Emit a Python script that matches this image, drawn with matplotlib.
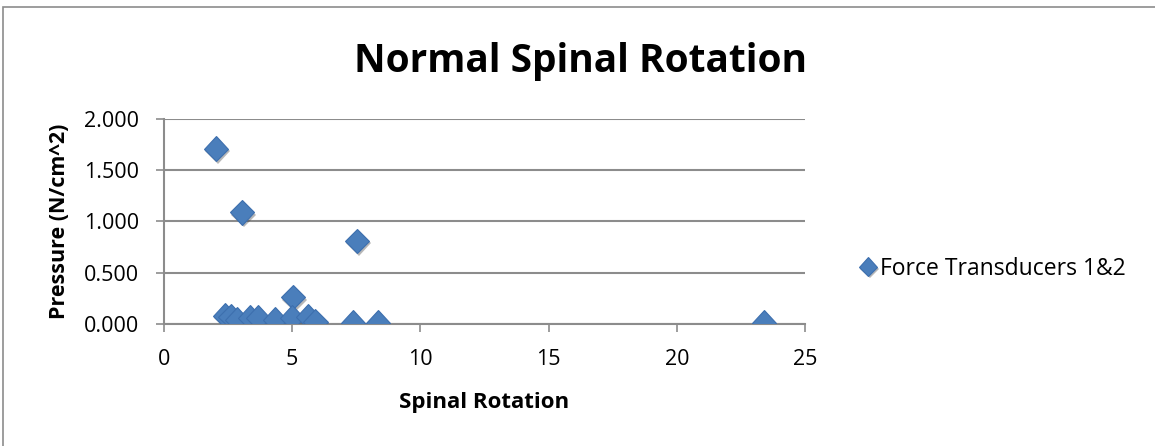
import matplotlib.pyplot as plt
import matplotlib.patheffects as pe
from matplotlib.patches import Rectangle
from matplotlib.ticker import FormatStrFormatter, MultipleLocator

# Spinal rotation (x) and pressure readings (y)
rotation = [2.03, 3.04, 7.53, 5.03, 23.4, 7.37, 8.35, 2.38, 2.6, 2.85,
            3.35, 3.67, 4.33, 5.0, 5.62, 5.9]
pressure = [1.71, 1.09, 0.81, 0.26, 0.01, 0.01, 0.01, 0.08, 0.07, 0.04,
            0.06, 0.06, 0.04, 0.06, 0.07, 0.02]

plt.rcParams['font.family'] = ['Open Sans', 'DejaVu Sans']

fig = plt.figure(figsize=(11.55, 4.46), dpi=100)
ax = fig.add_axes([0.142, 0.274, 0.555, 0.459])

# chart border
fig.patches.append(Rectangle((0.003, -0.01), 1.05, 0.995, transform=fig.transFigure,
                             fill=False, edgecolor='#8c8c8c', linewidth=1.2))

ax.plot(rotation, pressure, linestyle='none', marker='D', markersize=12.5,
        color='#4a7ebb', markeredgecolor='#3d6fae', markeredgewidth=0.8,
        label='Force Transducers 1&2', zorder=3,
        path_effects=[pe.SimplePatchShadow(offset=(1.2, -1.8), shadow_rgbFace='#333333', alpha=0.35),
                      pe.Normal()])

ax.set_xlim(0, 25)
ax.set_ylim(0, 2.0)
ax.xaxis.set_major_locator(MultipleLocator(5))
ax.yaxis.set_major_locator(MultipleLocator(0.5))
ax.yaxis.set_major_formatter(FormatStrFormatter('%.3f'))

ax.grid(axis='y', color='#8c8c8c', linewidth=1.5)
ax.set_axisbelow(True)
for side in ['top', 'right']:
    ax.spines[side].set_visible(False)
for side in ['left', 'bottom']:
    ax.spines[side].set_color('#8c8c8c')
    ax.spines[side].set_linewidth(1.5)
ax.tick_params(axis='both', color='#8c8c8c', width=1.2, length=6, labelsize=15.5)
ax.tick_params(axis='y', pad=12)
ax.tick_params(axis='x', pad=12)

fig.text(581 / 1155, 1 - 72 / 446, 'Normal Spinal Rotation', fontsize=28,
         fontweight='bold', ha='center', va='baseline')
ax.set_xlabel('Spinal Rotation', fontsize=16, fontweight='bold', labelpad=16)
ax.set_ylabel('Pressure (N/cm^2)', fontsize=15.5, fontweight='bold', labelpad=10)

ax.legend(loc='center left', bbox_to_anchor=(1.048, 0.27), frameon=False,
          fontsize=16.5, handletextpad=0.05, handlelength=1.0, markerscale=0.75)

plt.savefig('out.png', dpi=100)
